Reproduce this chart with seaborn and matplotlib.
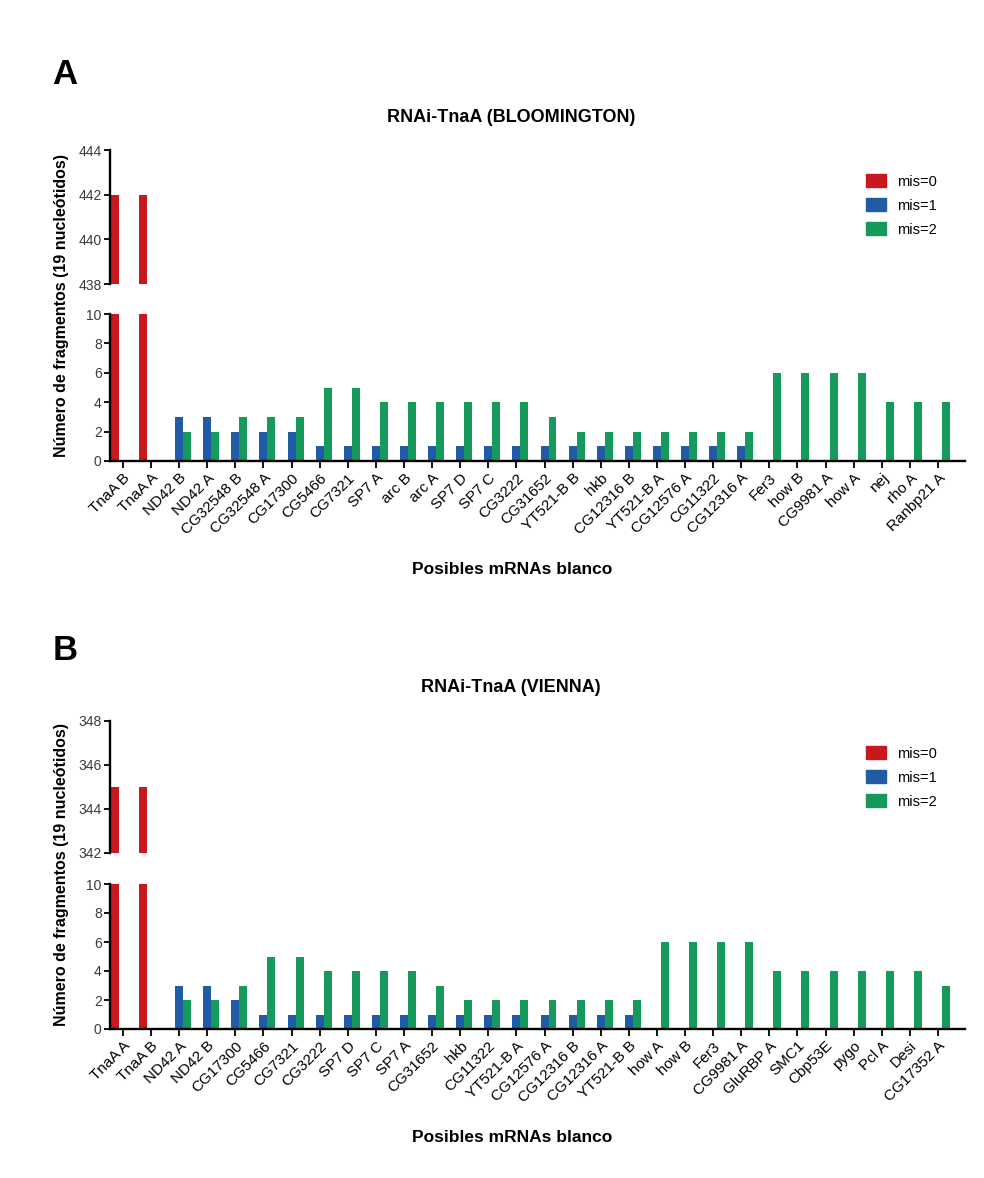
import pandas as pd
import matplotlib
matplotlib.use('Agg')
import matplotlib.pyplot as plt
import seaborn as sns

# --- data ---
levels = ['mis=0', 'mis=1', 'mis=2']
colors = {'mis=0': '#c8171e', 'mis=1': '#1f5ba6', 'mis=2': '#159a5b'}

genes_a = ['TnaA B', 'TnaA A', 'ND42 B', 'ND42 A', 'CG32548 B', 'CG32548 A', 'CG17300',
           'CG5466', 'CG7321', 'SP7 A', 'arc B', 'arc A', 'SP7 D', 'SP7 C', 'CG3222',
           'CG31652', 'YT521-B B', 'hkb', 'CG12316 B', 'YT521-B A', 'CG12576 A', 'CG11322',
           'CG12316 A', 'Fer3', 'how B', 'CG9981 A', 'how A', 'nej', 'rho A', 'Ranbp21 A']
mis0_a = [442, 442] + [0] * 28
mis1_a = [0, 0, 3, 3, 2, 2, 2, 1, 1, 1, 1, 1, 1, 1, 1, 1, 1, 1, 1, 1, 1, 1, 1,
          0, 0, 0, 0, 0, 0, 0]
mis2_a = [0, 0, 2, 2, 3, 3, 3, 5, 5, 4, 4, 4, 4, 4, 4, 3, 2, 2, 2, 2, 2, 2, 2,
          6, 6, 6, 6, 4, 4, 4]

genes_b = ['TnaA A', 'TnaA B', 'ND42 A', 'ND42 B', 'CG17300', 'CG5466', 'CG7321', 'CG3222',
           'SP7 D', 'SP7 C', 'SP7 A', 'CG31652', 'hkb', 'CG11322', 'YT521-B A', 'CG12576 A',
           'CG12316 B', 'CG12316 A', 'YT521-B B', 'how A', 'how B', 'Fer3', 'CG9981 A',
           'GluRBP A', 'SMC1', 'Cbp53E', 'pygo', 'Pcl A', 'Desi', 'CG17352 A']
mis0_b = [345, 345] + [0] * 28
mis1_b = [0, 0, 3, 3, 2, 1, 1, 1, 1, 1, 1, 1, 1, 1, 1, 1, 1, 1, 1,
          0, 0, 0, 0, 0, 0, 0, 0, 0, 0, 0]
mis2_b = [0, 0, 2, 2, 3, 5, 5, 4, 4, 4, 4, 3, 2, 2, 2, 2, 2, 2, 2,
          6, 6, 6, 6, 4, 4, 4, 4, 4, 4, 3]


def to_long(genes, m0, m1, m2):
    """long table: one row per gene and mismatch level"""
    frames = []
    for lev, vals in zip(levels, [m0, m1, m2]):
        frames.append(pd.DataFrame({'gene': genes, 'mis': lev, 'n': vals}))
    return pd.concat(frames, ignore_index=True)


sns.set_style('ticks')
plt.rcParams['font.family'] = ['Liberation Sans', 'DejaVu Sans']
plt.rcParams['text.color'] = 'black'
plt.rcParams['axes.edgecolor'] = 'black'
plt.rcParams['xtick.color'] = 'black'
plt.rcParams['ytick.color'] = 'black'

W, H = 984, 1178
fig = plt.figure(figsize=(W / 100, H / 100), dpi=100)


def rect(x0, x1, ytop, ybot):
    return [x0 / W, 1 - ybot / H, (x1 - x0) / W, (ybot - ytop) / H]


def draw_panel(df, genes, top_px, bot_px, top_lim, top_ticks, letter, letter_y, title, title_y,
               xlabel_y, legend_y):
    ax_top = fig.add_axes(rect(110, 965, *top_px))
    ax_bot = fig.add_axes(rect(110, 965, *bot_px))
    for ax in (ax_top, ax_bot):
        sns.barplot(data=df, x='gene', y='n', hue='mis', order=genes, hue_order=levels,
                    palette=colors, width=0.85, errorbar=None, linewidth=0,
                    saturation=1, legend=False, ax=ax)
        ax.set_xlim(-0.46, 29.96)
        ax.set_ylabel('')
        ax.set_xlabel('')
        for s in ('top', 'right'):
            ax.spines[s].set_visible(False)
        ax.spines['left'].set_linewidth(1.7)
        ax.spines['bottom'].set_linewidth(1.7)
        ax.tick_params(axis='y', length=4, width=1.3, labelsize=10, labelcolor='#3a3a3a', pad=2)

    ax_top.set_ylim(*top_lim)
    ax_top.set_yticks(top_ticks)
    ax_top.spines['bottom'].set_visible(False)
    ax_top.tick_params(axis='x', bottom=False, labelbottom=False)

    ax_bot.set_ylim(0, 10)
    ax_bot.set_yticks(range(0, 11, 2))
    ax_bot.tick_params(axis='x', length=5, width=1.3, labelsize=11, pad=2)
    plt.setp(ax_bot.get_xticklabels(), rotation=45, ha='right', rotation_mode='anchor')

    handles = [plt.Rectangle((0, 0), 1, 1, color=colors[l]) for l in levels]
    fig.legend(handles, levels, loc='upper left', bbox_to_anchor=(866 / W, 1 - legend_y / H),
               frameon=False, fontsize=10.5, borderpad=0, borderaxespad=0,
               handlelength=1.4, handleheight=1.0, handletextpad=0.7, labelspacing=0.65)

    fig.text(65 / W, 1 - letter_y / H, letter, fontsize=25, fontweight='bold',
             ha='center', va='center')
    fig.text(511 / W, 1 - title_y / H, title, fontsize=13, fontweight='bold',
             ha='center', va='center')
    fig.text(512 / W, 1 - xlabel_y / H, 'Posibles mRNAs blanco', fontsize=12.5,
             fontweight='bold', ha='center', va='center')
    ymid = (top_px[0] + bot_px[1]) / 2
    fig.text(62 / W, 1 - ymid / H, 'Número de fragmentos (19 nucleótidos)', fontsize=11.5,
             fontweight='bold', rotation=90, ha='center', va='center')


df_a = to_long(genes_a, mis0_a, mis1_a, mis2_a)
df_b = to_long(genes_b, mis0_b, mis1_b, mis2_b)

draw_panel(df_a, genes_a, (150, 284), (314, 461), (438, 444), [438, 440, 442, 444],
           'A', 75, 'RNAi-TnaA (BLOOMINGTON)', 117, 570, 174)
draw_panel(df_b, genes_b, (721, 853), (884, 1029), (342, 348), [342, 344, 346, 348],
           'B', 650, 'RNAi-TnaA (VIENNA)', 688, 1138, 746)

fig.savefig('out.png', dpi=100, facecolor='white')
